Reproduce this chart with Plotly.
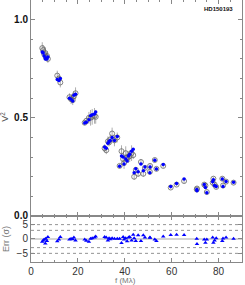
import plotly.graph_objects as go

freq = [4.8, 5.2, 5.6, 6.1, 6.3, 6.8, 7.2, 11.2, 11.9, 12.5, 16.4, 17.1, 17.8, 18.3, 19.0,
        22.9, 23.6, 24.7, 25.4, 26.1, 27.1, 27.6, 31.4, 32.1, 32.8, 33.3, 33.8, 34.6, 35.6,
        36.8, 37.8, 38.6, 39.3, 39.7, 40.4, 41.0, 41.6, 42.1, 42.9, 43.6, 44.0, 44.7, 45.7,
        46.9, 47.9, 48.6, 50.7, 50.8, 52.8, 53.5, 56.4, 59.6, 62.1, 65.3, 70.7, 70.8, 73.9,
        74.4, 75.0, 77.5, 77.8, 78.3, 79.0, 81.6, 81.9, 83.2, 86.4]
v2_obs = [0.855, 0.845, 0.825, 0.830, 0.810, 0.815, 0.800, 0.715, 0.700, 0.680, 0.605, 0.595,
          0.590, 0.610, 0.625, 0.475, 0.485, 0.500, 0.500, 0.505, 0.510, 0.505, 0.345, 0.335,
          0.380, 0.375, 0.390, 0.420, 0.385, 0.400, 0.255, 0.330, 0.290, 0.270, 0.320, 0.300,
          0.300, 0.305, 0.320, 0.310, 0.200, 0.235, 0.215, 0.275, 0.215, 0.245, 0.225, 0.255,
          0.285, 0.240, 0.255, 0.145, 0.160, 0.178, 0.135, 0.140, 0.160, 0.155, 0.122, 0.170,
          0.190, 0.160, 0.148, 0.190, 0.155, 0.175, 0.170]
v2_err = [0.030, 0.025, 0.025, 0.030, 0.020, 0.025, 0.020, 0.025, 0.020, 0.025, 0.020, 0.025,
          0.025, 0.025, 0.030, 0.010, 0.012, 0.030, 0.040, 0.040, 0.040, 0.035, 0.020, 0.020,
          0.025, 0.020, 0.025, 0.030, 0.030, 0.025, 0.010, 0.030, 0.030, 0.030, 0.035, 0.030,
          0.030, 0.030, 0.040, 0.020, 0.015, 0.015, 0.015, 0.015, 0.015, 0.015, 0.012, 0.010,
          0.010, 0.010, 0.010, 0.008, 0.008, 0.010, 0.010, 0.008, 0.010, 0.010, 0.008, 0.010,
          0.010, 0.010, 0.010, 0.010, 0.008, 0.008, 0.008]
v2_model = [0.835, 0.830, 0.815, 0.800, 0.805, 0.800, 0.810, 0.695, 0.690, 0.700, 0.600, 0.595,
            0.585, 0.615, 0.620, 0.473, 0.478, 0.490, 0.510, 0.515, 0.520, 0.530, 0.352, 0.345,
            0.370, 0.380, 0.385, 0.400, 0.385, 0.405, 0.253, 0.305, 0.300, 0.265, 0.290, 0.280,
            0.305, 0.315, 0.330, 0.340, 0.220, 0.240, 0.225, 0.265, 0.230, 0.250, 0.220, 0.250,
            0.284, 0.239, 0.262, 0.150, 0.166, 0.188, 0.135, 0.128, 0.160, 0.145, 0.118, 0.175,
            0.185, 0.155, 0.150, 0.188, 0.150, 0.176, 0.172]
resid = [-1.0, -0.5, -0.2, -1.6, 0.1, -0.7, 0.7, -0.8, -0.2, 0.7, -0.2, 0.1, -0.1, 0.5, -0.5,
         -0.2, -0.6, -1.0, 0.1, 0.3, 0.5, 0.9, 0.7, 0.5, -0.5, 0.3, -0.1, 0.3, 0.1, 0.1, 0.1,
         -1.4, 0.7, -0.2, 0.3, -0.8, 0.5, 0.7, -0.5, 1.5, 0.3, -0.7, 1.3, -0.7, 1.3, 0.5, 0.5,
         0.4, -0.2, -0.7, 0.9, 1.4, 1.5, 1.4, 0.1, -1.7, -0.2, -1.3, -0.2, 0.5, -1.3, -0.5, 0.3,
         -0.7, 0.2, 0.5, 0.1]

resid_lines = [-5, -3, 3, 5]
x_ticks = [0, 20, 40, 60, 80]
v2_ticks = [0.0, 0.5, 1.0]
res_ticks = [-5, 0, 5]

FONT = "Liberation Sans, Arial, sans-serif"
AX = "#888888"

fig = go.Figure()
fig.add_trace(go.Scatter(
    x=freq, y=v2_obs, mode="markers",
    error_y=dict(type="data", array=v2_err, color="#999999", thickness=0.8, width=0),
    marker=dict(symbol="circle-open", size=5, color="#666666", line=dict(width=0.8)),
    xaxis="x", yaxis="y", showlegend=False))
fig.add_trace(go.Scatter(
    x=freq, y=v2_model, mode="markers",
    marker=dict(symbol="circle", size=3.5, color="#0000ff"),
    xaxis="x", yaxis="y", showlegend=False))
fig.add_trace(go.Scatter(
    x=freq, y=resid, mode="markers",
    marker=dict(symbol="triangle-up", size=4, color="#0000ff"),
    xaxis="x2", yaxis="y2", showlegend=False))

shapes = []
for v in resid_lines:
    shapes.append(dict(type="line", xref="x2 domain", yref="y2", x0=0, x1=1, y0=v, y1=v,
                       line=dict(color="#666666", width=0.7, dash="dot"), layer="below"))
shapes.append(dict(type="line", xref="x2 domain", yref="y2", x0=0, x1=1, y0=0, y1=0,
                   line=dict(color="#aaaaaa", width=1.2), layer="below"))

split = 0.1756
common_x = dict(range=[0, 90], showline=True, linecolor=AX, linewidth=1, mirror="ticks",
                ticks="inside", ticklen=4, tickcolor=AX, showgrid=False, zeroline=False,
                automargin=False,
                tickvals=x_ticks, minor=dict(dtick=5, ticks="inside", ticklen=2, tickcolor=AX))
fig.update_layout(
    width=245, height=285,
    margin=dict(l=31, r=3, t=0, b=23, pad=0),
    paper_bgcolor="white", plot_bgcolor="white",
    font=dict(family=FONT, size=10, color="#222222"),
    xaxis=dict(domain=[0, 1], anchor="y", showticklabels=False, **common_x),
    yaxis=dict(domain=[split, 1], range=[0, 1.1], anchor="x", showline=True, linecolor=AX,
               linewidth=1, mirror="ticks", ticks="inside", ticklen=4, tickcolor=AX,
               automargin=False,
               tickvals=v2_ticks, ticktext=["<b>0.0</b>", "<b>0.5</b>", "<b>1.0</b>"],
               tickfont=dict(size=10, color="#111111"),
               showgrid=False, zeroline=False,
               minor=dict(dtick=0.1, ticks="inside", ticklen=2, tickcolor=AX)),
    xaxis2=dict(domain=[0, 1], anchor="y2", showticklabels=True,
                tickfont=dict(size=10, color="#333333"), **common_x),
    yaxis2=dict(domain=[0, split], range=[-8, 8], anchor="x2", showline=True, linecolor=AX,
                linewidth=1, mirror="ticks", ticks="inside", ticklen=4, tickcolor=AX,
                automargin=False,
                tickvals=res_ticks, ticktext=["\u22125", "0", "5"],
                tickfont=dict(size=10, color="#333333"),
                showgrid=False, zeroline=False),
    shapes=shapes,
    annotations=[
        dict(text="<b>HD150193</b>", xref="paper", yref="paper", x=0.89, y=0.967,
             showarrow=False, font=dict(size=6, color="#111111"), xanchor="center", yanchor="middle"),
        dict(text="V<sup>2</sup>", xref="paper", yref="paper", x=-0.125, y=0.553, textangle=-90,
             showarrow=False, font=dict(size=9, color="#555555"), xanchor="center", yanchor="middle"),
        dict(text="Err (\u03c3)", xref="paper", yref="paper", x=-0.118, y=0.088, textangle=-90,
             showarrow=False, font=dict(size=9, color="#777777"), xanchor="center", yanchor="middle"),
        dict(text="f (M\u03bb)", xref="paper", yref="paper", x=0.45, y=-0.07,
             showarrow=False, font=dict(size=8, color="#777777"), xanchor="center", yanchor="middle"),
    ],
)
fig.write_html("out.html", config={"displayModeBar": False},
               post_script="document.body.style.margin='0';document.body.style.overflow='hidden';")
